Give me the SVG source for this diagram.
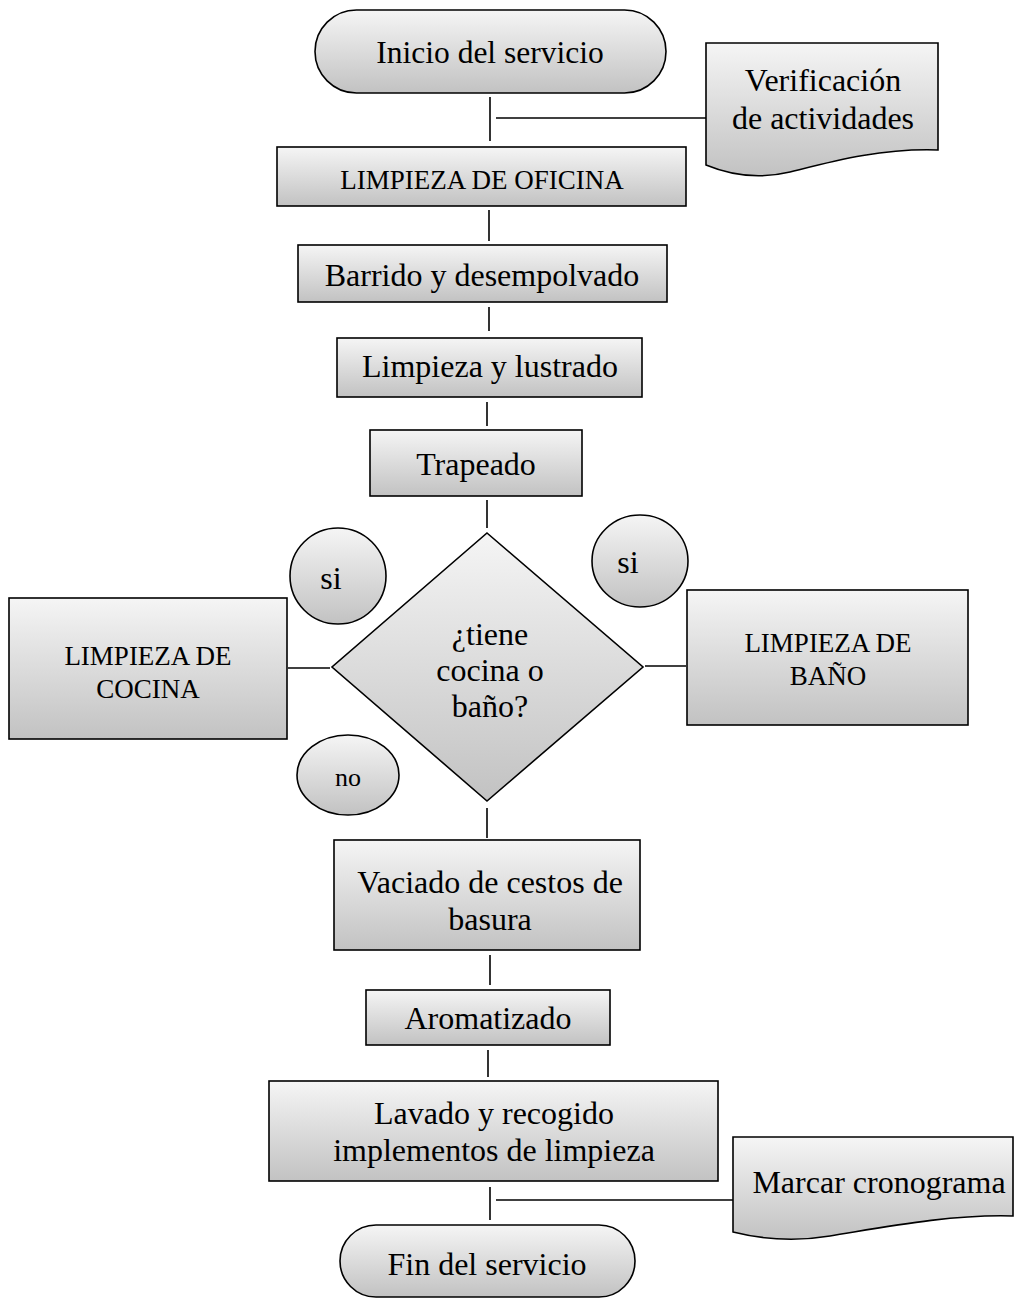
<svg xmlns="http://www.w3.org/2000/svg" width="1016" height="1305" viewBox="0 0 1016 1305">
<defs>
<linearGradient id="g" x1="0" y1="0" x2="0" y2="1">
<stop offset="0" stop-color="#f5f5f5"/>
<stop offset="1" stop-color="#c2c2c2"/>
</linearGradient>
</defs>
<style>
.s{fill:url(#g);stroke:#000;stroke-width:1.6}
.t{font-family:"Liberation Serif","Times New Roman",serif;fill:#000;text-anchor:middle;font-size:32px}
.c{font-size:27px}
.l{stroke:#000;stroke-width:1.6;fill:none}
</style>
<rect width="1016" height="1305" fill="#fff"/>
<g id="connectors">
<line class="l" x1="490" y1="97" x2="490" y2="141"/>
<line class="l" x1="496" y1="118" x2="706" y2="118"/>
<line class="l" x1="489" y1="210" x2="489" y2="241"/>
<line class="l" x1="489" y1="307" x2="489" y2="331"/>
<line class="l" x1="487" y1="402" x2="487" y2="426"/>
<line class="l" x1="487" y1="500" x2="487" y2="528"/>
<line class="l" x1="288" y1="668" x2="330" y2="668"/>
<line class="l" x1="645" y1="666" x2="686" y2="666"/>
<line class="l" x1="487" y1="808" x2="487" y2="838"/>
<line class="l" x1="490" y1="955" x2="490" y2="985"/>
<line class="l" x1="488" y1="1050" x2="488" y2="1077"/>
<line class="l" x1="490" y1="1187" x2="490" y2="1220"/>
<line class="l" x1="496" y1="1200" x2="733" y2="1200"/>
</g>
<g id="n-inicio">
<rect class="s" x="315" y="10" width="351" height="83" rx="41.5" ry="41.5"/>
<text class="t" x="490" y="63" style="font-size:31.5px">Inicio del servicio</text>
</g>
<g id="n-verificacion">
<path class="s" d="M706,43 H938 V150 C880,148 830,162 790,172 C765,178 735,177 706,165 Z"/>
<text class="t" x="823" y="91">Verificación</text>
<text class="t" x="823" y="129">de actividades</text>
</g>
<g id="n-oficina">
<rect class="s" x="277" y="147" width="409" height="59"/>
<text class="t c" x="482" y="189">LIMPIEZA DE OFICINA</text>
</g>
<g id="n-barrido">
<rect class="s" x="298" y="245" width="369" height="57"/>
<text class="t" x="482" y="286">Barrido y desempolvado</text>
</g>
<g id="n-lustrado">
<rect class="s" x="337" y="338" width="305" height="59"/>
<text class="t" x="490" y="377">Limpieza y lustrado</text>
</g>
<g id="n-trapeado">
<rect class="s" x="370" y="430" width="212" height="66"/>
<text class="t" x="476" y="475">Trapeado</text>
</g>
<g id="n-decision">
<polygon class="s" points="487,533 643,667 487,801 332,667"/>
<text class="t" x="490" y="645">¿tiene</text>
<text class="t" x="490" y="681">cocina o</text>
<text class="t" x="490" y="717">baño?</text>
</g>
<g id="n-si-left">
<ellipse class="s" cx="338" cy="576" rx="48" ry="48"/>
<text class="t" x="331" y="589">si</text>
</g>
<g id="n-si-right">
<ellipse class="s" cx="640" cy="561" rx="48" ry="46"/>
<text class="t" x="628" y="573">si</text>
</g>
<g id="n-no">
<ellipse class="s" cx="348" cy="775" rx="51" ry="40"/>
<text class="t" x="348" y="786" style="font-size:26px">no</text>
</g>
<g id="n-cocina">
<rect class="s" x="9" y="598" width="278" height="141"/>
<text class="t c" x="148" y="665">LIMPIEZA DE</text>
<text class="t c" x="148" y="698">COCINA</text>
</g>
<g id="n-bano">
<rect class="s" x="687" y="590" width="281" height="135"/>
<text class="t c" x="828" y="652">LIMPIEZA DE</text>
<text class="t c" x="828" y="685">BAÑO</text>
</g>
<g id="n-vaciado">
<rect class="s" x="334" y="840" width="306" height="110"/>
<text class="t" x="490" y="893">Vaciado de cestos de</text>
<text class="t" x="490" y="930">basura</text>
</g>
<g id="n-aromatizado">
<rect class="s" x="366" y="990" width="244" height="55"/>
<text class="t" x="488" y="1029">Aromatizado</text>
</g>
<g id="n-lavado">
<rect class="s" x="269" y="1081" width="449" height="100"/>
<text class="t" x="494" y="1124">Lavado y recogido</text>
<text class="t" x="494" y="1161">implementos de limpieza</text>
</g>
<g id="n-marcar">
<path class="s" d="M733,1137 H1013 V1216 C950,1214 880,1228 830,1236 C800,1241 765,1240 733,1232 Z"/>
<text class="t" x="879" y="1193">Marcar cronograma</text>
</g>
<g id="n-fin">
<rect class="s" x="340" y="1225" width="295" height="72" rx="36" ry="36"/>
<text class="t" x="487" y="1275">Fin del servicio</text>
</g>
</svg>
